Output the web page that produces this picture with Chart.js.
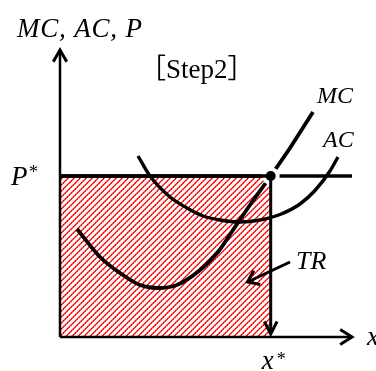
<!DOCTYPE html>
<html><head><meta charset="utf-8">
<script src="https://cdn.jsdelivr.net/npm/chart.js@4/dist/chart.umd.min.js"></script>
<style>html,body{margin:0;padding:0;background:#fff;overflow:hidden}canvas{display:block}</style>
</head><body>
<canvas id="c" width="376" height="371"></canvas>
<script>
// ---- data (distances from the origin of the diagram) ----
const XSTAR = 210.7;          // x*
const PSTAR = 161;            // P*
const Y_AXIS_END = 287;
const X_AXIS_END = 292;
const P_LINE_END = 292;
const mcX = [17, 40, 60, 80, 97, 117, 140, 158, 173, 190, 210.7, 230, 253];
const mcY = [108, 80, 64, 52, 49, 52, 67, 85, 107, 132, 161, 189, 225];
const acX = [78, 90, 110, 127, 143, 160, 180, 200, 220, 240, 255, 270, 278];
const acY = [181, 161, 140, 129, 121, 117, 115, 117, 122.5, 133, 146.5, 166, 180];
const trArrowX = [230, 187.5];
const trArrowY = [75, 55];
const axisTitle = 'MC, AC, P';
const stepLabel = '［Step2］';
const curveLabels = ['MC', 'AC'];
const pLabel = ['P', '*'];
const xStarLabel = ['x', '*'];
const trLabel = 'TR';
const xAxisLabel = 'x';

const pts = (xs, ys) => xs.map((x, i) => ({x, y: ys[i]}));

const canvas = document.getElementById('c');
function hatchPattern() {
  const c = document.createElement('canvas'); c.width = 6; c.height = 6;
  const g = c.getContext('2d');
  for (let i = 0; i < 6; i++) {
    const y = 5 - i;
    g.fillStyle = '#ffc8c8'; g.fillRect((i + 5) % 6, y, 1, 1);
    g.fillStyle = i % 2 ? '#ff5c5c' : '#ff2a2a'; g.fillRect((i + 1) % 6, y, 1, 1);
    g.fillStyle = i % 2 ? '#ff0000' : '#ff3030'; g.fillRect(i, y, 1, 1);
  }
  return canvas.getContext('2d').createPattern(c, 'repeat');
}

const arrowPlugin = {
  id: 'arrows',
  afterDatasetsDraw(chart) {
    const ctx = chart.ctx;
    chart.data.datasets.forEach((ds, i) => {
      if (!ds.arrow) return;
      const d = chart.getDatasetMeta(i).data;
      const a = d[d.length - 2], b = d[d.length - 1];
      const ang = Math.atan2(b.y - a.y, b.x - a.x);
      const L = ds.arrow.len, w = ds.arrow.spread;
      ctx.save();
      ctx.strokeStyle = '#000'; ctx.lineWidth = ds.arrow.width;
      ctx.lineJoin = 'miter'; ctx.lineCap = 'butt';
      ctx.beginPath();
      ctx.moveTo(b.x - L * Math.cos(ang - w), b.y - L * Math.sin(ang - w));
      ctx.lineTo(b.x, b.y);
      ctx.lineTo(b.x - L * Math.cos(ang + w), b.y - L * Math.sin(ang + w));
      ctx.stroke();
      ctx.restore();
    });
  }
};

const labelPlugin = {
  id: 'labels',
  afterDraw(chart) {
    const ctx = chart.ctx, xs = chart.scales.x, ys = chart.scales.y;
    const serifI = s => 'italic ' + s + 'px "Liberation Serif"';
    ctx.save();
    ctx.fillStyle = '#000';
    ctx.textBaseline = 'alphabetic';
    ctx.textAlign = 'left';
    ctx.font = serifI(27);
    ctx.letterSpacing = '0.8px';
    ctx.fillText(axisTitle, 17, 37);
    ctx.letterSpacing = '0px';
    ctx.font = '27px "Liberation Serif", "Noto Sans CJK JP"';
    ctx.fillText(stepLabel, 139, 78);
    ctx.font = serifI(24);
    ctx.fillText(curveLabels[0], 317, 103);
    ctx.fillText(curveLabels[1], 323, 147);
    // P*
    const py = ys.getPixelForValue(PSTAR);
    ctx.font = serifI(27);
    ctx.fillText(pLabel[0], 11, py + 9);
    ctx.font = '18px "Liberation Serif"';
    ctx.fillText(pLabel[1], 29, py + 2);
    // x*
    const px = xs.getPixelForValue(XSTAR);
    ctx.font = serifI(27);
    ctx.fillText(xStarLabel[0], px - 9, 369);
    ctx.font = '18px "Liberation Serif"';
    ctx.fillText(xStarLabel[1], px + 6, 365);
    // TR
    ctx.font = serifI(26);
    ctx.fillText(trLabel, 296, 269);
    // x axis
    ctx.font = serifI(27);
    ctx.fillText(xAxisLabel, 367, 345);
    ctx.restore();
  }
};

const line = (data, extra) => Object.assign({
  data, showLine: true, pointRadius: 0, borderColor: '#000', borderWidth: 3.8,
  fill: false, tension: 0
}, extra);

new Chart(canvas, {
  type: 'scatter',
  data: {
    datasets: [
      line([{x: 0, y: PSTAR}, {x: XSTAR, y: PSTAR}], {
        borderWidth: 0, fill: 'origin', backgroundColor: hatchPattern(), order: 20
      }),
      line([{x: 0, y: 0}, {x: 0, y: Y_AXIS_END}], {borderWidth: 2.5, order: 9,
        arrow: {len: 13.5, spread: Math.PI / 6, width: 3}}),
      line([{x: 0, y: 0}, {x: X_AXIS_END, y: 0}], {borderWidth: 2.5, order: 9,
        arrow: {len: 14, spread: Math.PI * 0.18, width: 3}}),
      line(pts(mcX, mcY), {cubicInterpolationMode: 'monotone', order: 10}),
      line(pts(acX, acY), {cubicInterpolationMode: 'monotone', order: 10, borderWidth: 3.4}),
      line([{x: 0, y: PSTAR}, {x: P_LINE_END, y: PSTAR}], {order: 10, borderWidth: 3.5}),
      // white ring around the equilibrium point
      {data: [{x: XSTAR, y: PSTAR}], pointRadius: 9, pointBackgroundColor: '#fff',
        pointBorderWidth: 0, order: 5},
      line([{x: 0, y: PSTAR}, {x: XSTAR, y: PSTAR}], {order: 3, borderWidth: 3.5}),
      line([{x: XSTAR, y: PSTAR}, {x: XSTAR, y: 3}], {borderWidth: 3, order: 3,
        arrow: {len: 14, spread: Math.PI * 0.15, width: 3}}),
      line(pts(trArrowX, trArrowY), {borderWidth: 3, order: 3,
        arrow: {len: 13, spread: Math.PI * 0.2, width: 3}}),
      {data: [{x: XSTAR, y: PSTAR}], pointRadius: 5, pointBackgroundColor: '#000',
        pointBorderWidth: 0, order: 1}
    ]
  },
  options: {
    responsive: false, animation: false, devicePixelRatio: 1,
    layout: {padding: 0, autoPadding: false},
    events: [],
    plugins: {legend: {display: false}, tooltip: {enabled: false}},
    scales: {
      x: {type: 'linear', display: false, min: -60, max: 316},
      y: {type: 'linear', display: false, min: -34, max: 337}
    }
  },
  plugins: [arrowPlugin, labelPlugin]
});
</script>
</body></html>
